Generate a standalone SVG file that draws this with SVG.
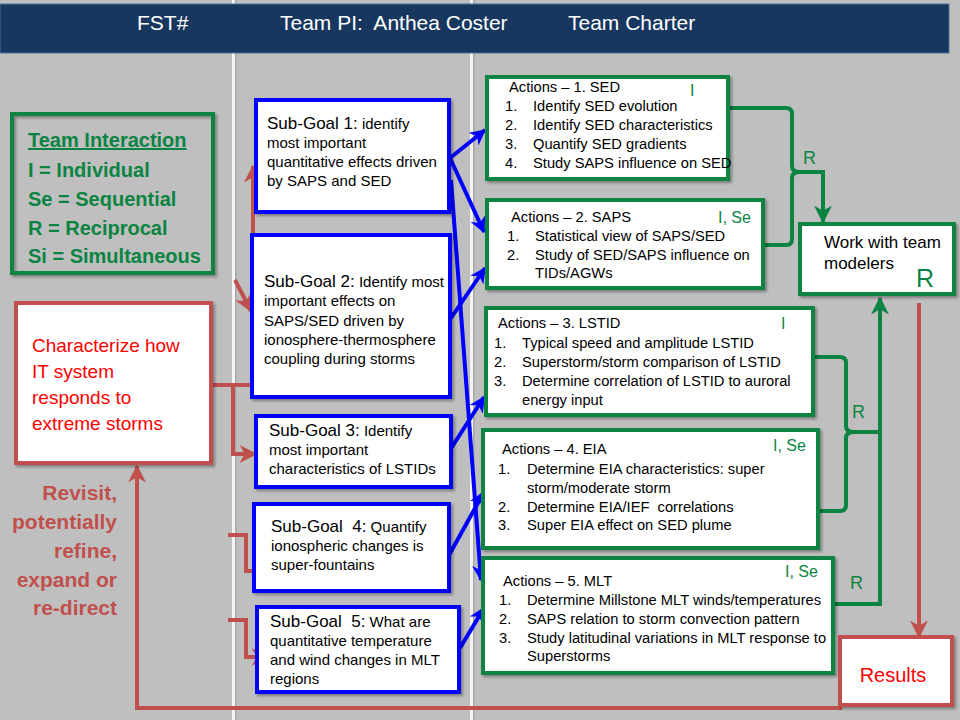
<svg xmlns="http://www.w3.org/2000/svg" width="960" height="720" viewBox="0 0 960 720">
<defs>
<style>
text{font-family:"Liberation Sans",Arial,sans-serif;}
.hdr{fill:#ffffff;font-size:21px;}
.gbox{fill:#ffffff;stroke:#0b8443;stroke-width:4;}
.bbox{fill:#ffffff;stroke:#0000ff;stroke-width:4;}
.rbox{fill:#ffffff;stroke:#c0504d;stroke-width:4;}
.sg{font-size:15px;fill:#000000;}
.sgl{font-size:17px;}
.act{font-size:14.7px;fill:#000000;}
.gl{font-size:16px;fill:#0b8443;}
.rl{font-size:18px;fill:#0b8443;}
.ti{font-size:20px;font-weight:bold;fill:#0b8443;}
.rev{font-size:21px;font-weight:bold;fill:#c0504d;text-anchor:end;}
.red{font-size:19px;fill:#ff0000;}
.blue{stroke:#0000ff;stroke-width:4;fill:none;marker-end:url(#ab);}
.grn{stroke:#0b8443;stroke-width:4;fill:none;}
.rd{stroke:#c0504d;stroke-width:4;fill:none;}
</style>
<marker id="ab" viewBox="0 0 12 12" refX="11" refY="6" markerWidth="16" markerHeight="16" markerUnits="userSpaceOnUse" orient="auto"><path d="M0,0 L12,6 L0,12 L3.5,6 z" fill="#0000ff"/></marker>
<marker id="ag" viewBox="0 0 12 12" refX="11" refY="6" markerWidth="18" markerHeight="18" markerUnits="userSpaceOnUse" orient="auto"><path d="M0,0 L12,6 L0,12 L3.5,6 z" fill="#0b8443"/></marker>
<marker id="ar" viewBox="0 0 12 12" refX="11" refY="6" markerWidth="18" markerHeight="18" markerUnits="userSpaceOnUse" orient="auto"><path d="M0,0 L12,6 L0,12 L3.5,6 z" fill="#c0504d"/></marker>
<filter id="sh" x="-10%" y="-10%" width="130%" height="130%"><feDropShadow dx="2" dy="2" stdDeviation="1.5" flood-color="#000000" flood-opacity="0.35"/></filter>
</defs>
<rect x="0" y="0" width="960" height="720" fill="#bfbfbf"/>
<rect x="232" y="0" width="3" height="720" fill="#f4f4f4"/>
<rect x="235" y="0" width="1.5" height="720" fill="#a8a8a8"/>
<rect x="470" y="0" width="3" height="720" fill="#f4f4f4"/>
<rect x="473" y="0" width="1.5" height="720" fill="#a8a8a8"/>
<g id="header">
<rect x="0" y="4" width="949" height="49" fill="#17375e" stroke="#4f6f9f" stroke-width="1"/>
<text class="hdr" x="137" y="30">FST#</text>
<text class="hdr" x="280" y="30" xml:space="preserve">Team PI:  Anthea Coster</text>
<text class="hdr" x="568" y="30">Team Charter</text>
</g>
<g id="connectors">
<path class="blue" d="M450,158 L485,130"/>
<path class="blue" d="M450,158 L484,232"/>
<path class="blue" d="M451,180 L481,580"/>
<path class="blue" d="M451,318 L485,268"/>
<path class="blue" d="M450,450 L484,397"/>
<path class="blue" d="M448,557 L484,492"/>
<path class="blue" d="M460,648 L484,608"/>
<path class="grn" d="M728,108 H786 Q792,108 792,114 V166 Q792,172 800,172 H823 V222" marker-end="url(#ag)"/>
<path class="grn" d="M763,245 H786 Q792,245 792,239 V178 Q792,172 800,172"/>
<path class="grn" d="M813,357 H840 Q846,357 846,363 V426 Q846,432 854,432 H880"/>
<path class="grn" d="M818,511 H840 Q846,511 846,505 V438 Q846,432 854,432"/>
<path class="grn" d="M833,604 H880 V298" marker-end="url(#ag)"/>
<path class="rd" d="M919,303 V637" marker-end="url(#ar)"/>
<path class="rd" d="M842,708 H137 V466" marker-end="url(#ar)"/>
<path class="rd" d="M211,385 H253 V166" marker-end="url(#ar)"/>
<path class="rd" d="M233,385 V454 H256" marker-end="url(#ar)"/>
<path class="rd" d="M235,280 L251,311" marker-end="url(#ar)"/>
<path class="rd" d="M228,535 H246 V571 H268" marker-end="url(#ar)"/>
<path class="rd" d="M228,620 H246 V657 H268" marker-end="url(#ar)"/>
<text class="rl" x="803" y="164">R</text>
<text class="rl" x="852" y="418">R</text>
<text class="rl" x="850" y="589">R</text>
</g>
<g id="team-interaction">
<rect x="12" y="114" width="201" height="159" fill="none" stroke="#0b8443" stroke-width="4" filter="url(#sh)"/>
<text class="ti" x="28" y="147" text-decoration="underline">Team Interaction</text>
<text class="ti" x="28" y="177">I = Individual</text>
<text class="ti" x="28" y="206">Se = Sequential</text>
<text class="ti" x="28" y="235">R = Reciprocal</text>
<text class="ti" x="28" y="263">Si = Simultaneous</text>
</g>
<g id="characterize">
<rect class="rbox" x="16" y="303" width="195" height="160" filter="url(#sh)"/>
<text class="red" x="32" y="352">Characterize how</text>
<text class="red" x="32" y="378">IT system</text>
<text class="red" x="32" y="404">responds to</text>
<text class="red" x="32" y="430">extreme storms</text>
</g>
<g id="revisit">
<text class="rev" x="117" y="500">Revisit,</text>
<text class="rev" x="117" y="529">potentially</text>
<text class="rev" x="117" y="558">refine,</text>
<text class="rev" x="117" y="587">expand or</text>
<text class="rev" x="117" y="615">re-direct</text>
</g>
<g id="subgoal1">
<rect class="bbox" x="256" y="100" width="193" height="112" filter="url(#sh)"/>
<text class="sg" x="267" y="129"><tspan class="sgl">Sub-Goal 1:</tspan> identify</text>
<text class="sg" x="267" y="148">most important</text>
<text class="sg" x="267" y="167">quantitative effects driven</text>
<text class="sg" x="267" y="186">by SAPS and SED</text>
</g>
<g id="subgoal2">
<rect class="bbox" x="252" y="235" width="198" height="162" filter="url(#sh)"/>
<text class="sg" x="264" y="287"><tspan class="sgl">Sub-Goal 2:</tspan> Identify most</text>
<text class="sg" x="264" y="306">important effects on</text>
<text class="sg" x="264" y="326">SAPS/SED driven by</text>
<text class="sg" x="264" y="345">ionosphere-thermosphere</text>
<text class="sg" x="264" y="364">coupling during storms</text>
</g>
<g id="subgoal3">
<rect class="bbox" x="256" y="416" width="195" height="71" filter="url(#sh)"/>
<text class="sg" x="269" y="436"><tspan class="sgl">Sub-Goal 3:</tspan> Identify</text>
<text class="sg" x="269" y="455">most important</text>
<text class="sg" x="269" y="474">characteristics of LSTIDs</text>
</g>
<g id="subgoal4">
<rect class="bbox" x="254" y="504" width="195" height="87" filter="url(#sh)"/>
<text class="sg" x="271" y="532" xml:space="preserve"><tspan class="sgl">Sub-Goal  4:</tspan> Quantify</text>
<text class="sg" x="271" y="551">ionospheric changes is</text>
<text class="sg" x="271" y="570">super-fountains</text>
</g>
<g id="subgoal5">
<rect class="bbox" x="257" y="607" width="202" height="85" filter="url(#sh)"/>
<text class="sg" x="270" y="627" xml:space="preserve"><tspan class="sgl">Sub-Goal  5:</tspan> What are</text>
<text class="sg" x="270" y="646">quantitative temperature</text>
<text class="sg" x="270" y="665">and wind changes in MLT</text>
<text class="sg" x="270" y="684">regions</text>
</g>
<g id="actions1">
<rect class="gbox" x="487" y="77" width="241" height="102" filter="url(#sh)"/>
<text class="act" x="509" y="92">Actions – 1. SED</text>
<text class="act" x="505" y="111">1.</text><text class="act" x="533" y="111">Identify SED evolution</text>
<text class="act" x="505" y="130">2.</text><text class="act" x="533" y="130">Identify SED characteristics</text>
<text class="act" x="505" y="149">3.</text><text class="act" x="533" y="149">Quantify SED gradients</text>
<text class="act" x="505" y="168">4.</text><text class="act" x="533" y="168">Study SAPS influence on SED</text>
<text class="gl" x="690" y="96">I</text>
</g>
<g id="actions2">
<rect class="gbox" x="487" y="200" width="276" height="88" filter="url(#sh)"/>
<text class="act" x="511" y="222">Actions – 2. SAPS</text>
<text class="act" x="507" y="241">1.</text><text class="act" x="535" y="241">Statistical view of SAPS/SED</text>
<text class="act" x="507" y="260">2.</text><text class="act" x="535" y="260">Study of SED/SAPS influence on</text>
<text class="act" x="535" y="278">TIDs/AGWs</text>
<text class="gl" x="718" y="223">I, Se</text>
</g>
<g id="actions3">
<rect class="gbox" x="486" y="308" width="327" height="107" filter="url(#sh)"/>
<text class="act" x="498" y="328">Actions – 3. LSTID</text>
<text class="act" x="494" y="348">1.</text><text class="act" x="522" y="348">Typical speed and amplitude LSTID</text>
<text class="act" x="494" y="367">2.</text><text class="act" x="522" y="367">Superstorm/storm comparison of LSTID</text>
<text class="act" x="494" y="386">3.</text><text class="act" x="522" y="386">Determine correlation of LSTID to auroral</text>
<text class="act" x="522" y="405">energy input</text>
<text class="gl" x="781" y="329">I</text>
</g>
<g id="actions4">
<rect class="gbox" x="483" y="430" width="335" height="118" filter="url(#sh)"/>
<text class="act" x="502" y="454">Actions – 4. EIA</text>
<text class="act" x="498" y="474">1.</text><text class="act" x="527" y="474">Determine EIA characteristics: super</text>
<text class="act" x="527" y="493">storm/moderate storm</text>
<text class="act" x="498" y="512">2.</text><text class="act" x="527" y="512" xml:space="preserve">Determine EIA/IEF  correlations</text>
<text class="act" x="498" y="530">3.</text><text class="act" x="527" y="530">Super EIA effect on SED plume</text>
<text class="gl" x="773" y="451">I, Se</text>
</g>
<g id="actions5">
<rect class="gbox" x="483" y="558" width="350" height="115" filter="url(#sh)"/>
<text class="act" x="503" y="586">Actions – 5. MLT</text>
<text class="act" x="499" y="605">1.</text><text class="act" x="527" y="605">Determine Millstone MLT winds/temperatures</text>
<text class="act" x="499" y="624">2.</text><text class="act" x="527" y="624">SAPS relation to storm convection pattern</text>
<text class="act" x="499" y="643">3.</text><text class="act" x="527" y="643">Study latitudinal variations in MLT response to</text>
<text class="act" x="527" y="661">Superstorms</text>
<text class="gl" x="785" y="577">I, Se</text>
</g>
<g id="work-modelers">
<rect class="gbox" x="800" y="224" width="154" height="70" filter="url(#sh)"/>
<text x="824" y="248" font-size="17" fill="#000000">Work with team</text>
<text x="824" y="269" font-size="17" fill="#000000">modelers</text>
<text x="916" y="287" font-size="25" fill="#0b8443">R</text>
</g>
<g id="results">
<rect class="rbox" x="840" y="637" width="112" height="68" filter="url(#sh)"/>
<text x="893" y="682" font-size="20" fill="#ff0000" text-anchor="middle">Results</text>
</g>
</svg>
